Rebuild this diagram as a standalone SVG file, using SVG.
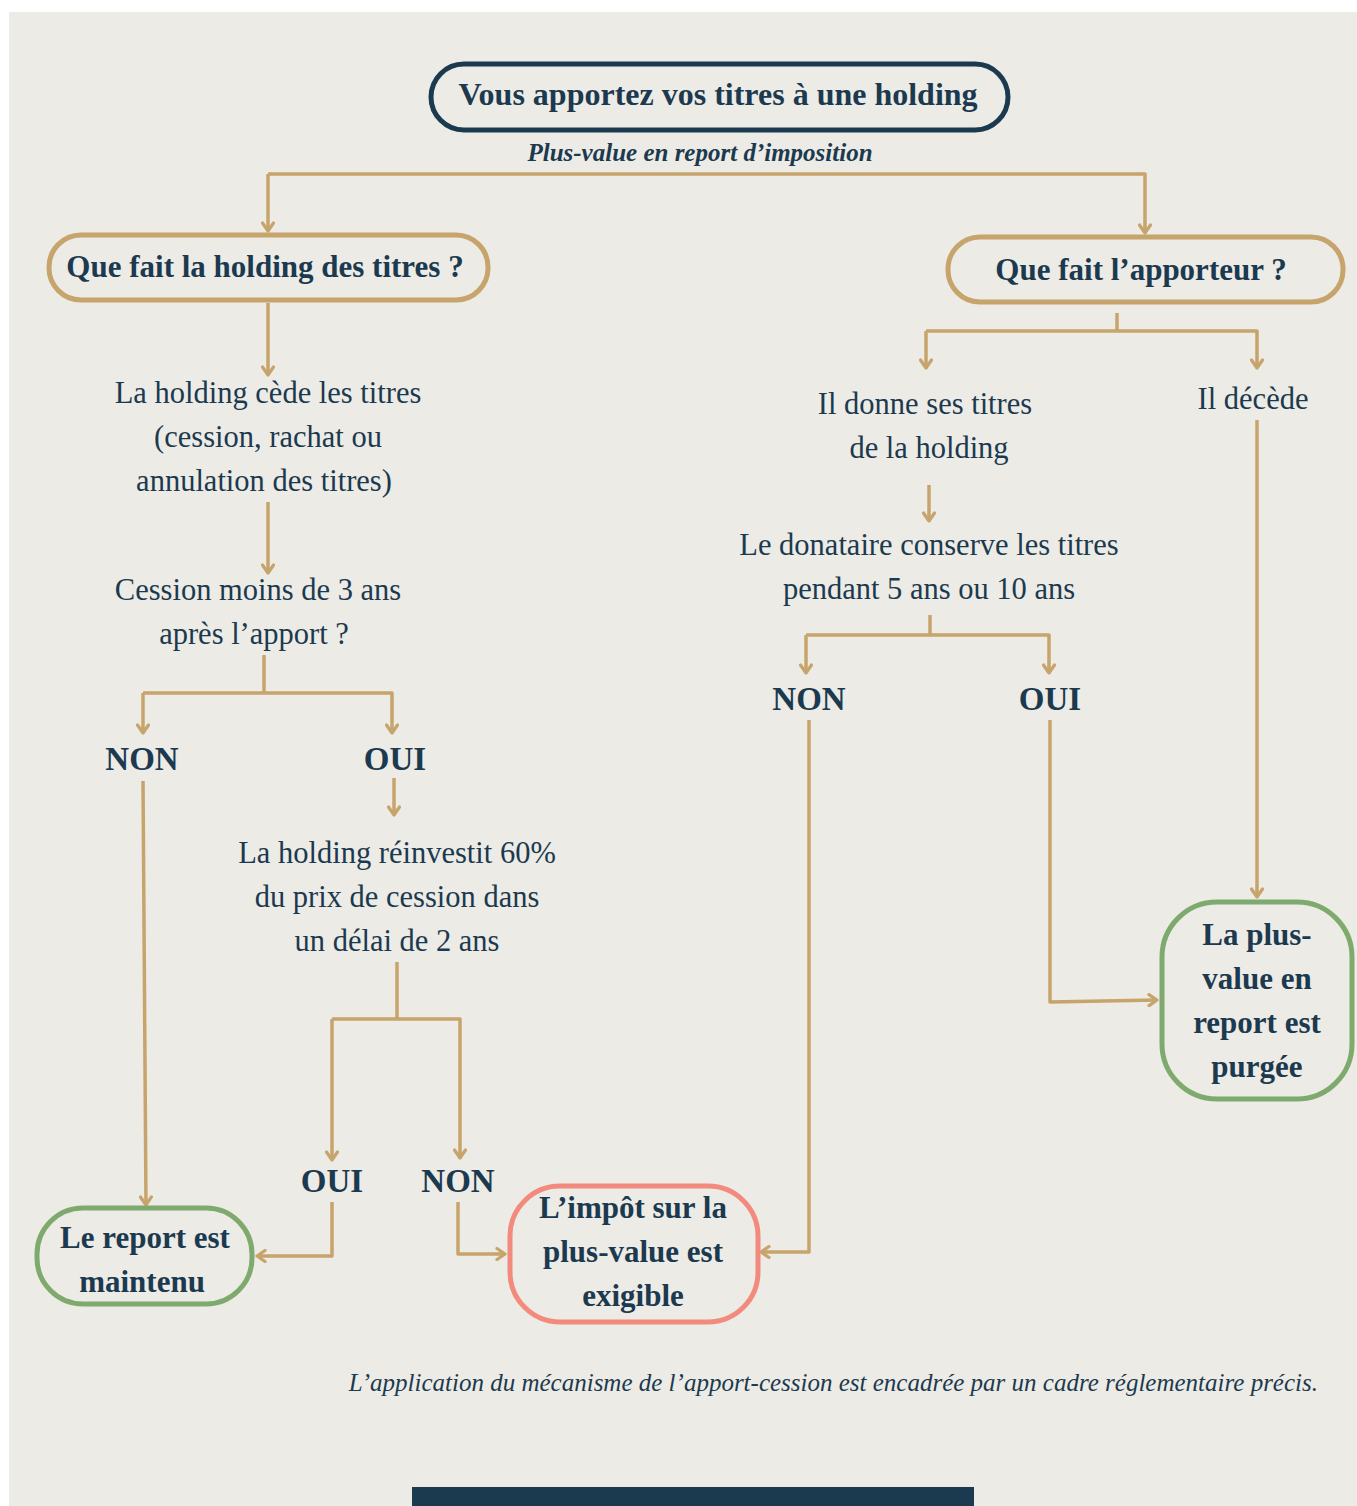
<svg xmlns="http://www.w3.org/2000/svg" width="1357" height="1506" viewBox="0 0 1357 1506">
<defs>
<style>
.t{font-family:"Liberation Serif","DejaVu Serif",serif;fill:#1C3A4F;text-anchor:middle}
.r{font-size:30.5px}
.b{font-size:31px;font-weight:bold}
.yn{font-size:33px;font-weight:bold}
.c{fill:none;stroke:#C6A46C;stroke-width:3.5;stroke-linejoin:round}
.pill{fill:none;stroke-width:5}
</style>
<marker id="ah" viewBox="0 0 14 14" refX="12" refY="7" markerWidth="14" markerHeight="14" markerUnits="userSpaceOnUse" orient="auto">
<path d="M4,1.5 L12,7 L4,12.5" fill="none" stroke="#C6A46C" stroke-width="3.2" stroke-linecap="round" stroke-linejoin="round"/>
</marker>
</defs>
<rect x="0" y="0" width="1357" height="1506" fill="#FFFFFF"/>
<rect x="9" y="12" width="1348" height="1494" fill="#EDEBE6"/>

<g id="connectors">
<path class="c" d="M268,174 H1145 V233" marker-end="url(#ah)"/>
<path class="c" d="M268,174 V231" marker-end="url(#ah)"/>
<path class="c" d="M268,303 V375" marker-end="url(#ah)"/>
<path class="c" d="M268,502 V573" marker-end="url(#ah)"/>
<path class="c" d="M264,655 V693"/>
<path class="c" d="M143,693 H392 V733" marker-end="url(#ah)"/>
<path class="c" d="M143,693 V733" marker-end="url(#ah)"/>
<path class="c" d="M143,781 L146,1205" marker-end="url(#ah)"/>
<path class="c" d="M394,778 V815" marker-end="url(#ah)"/>
<path class="c" d="M397,962 V1019"/>
<path class="c" d="M332,1019 H460 V1158" marker-end="url(#ah)"/>
<path class="c" d="M332,1019 V1160" marker-end="url(#ah)"/>
<path class="c" d="M332,1202 V1256 H257" marker-end="url(#ah)"/>
<path class="c" d="M458,1202 V1254 H505" marker-end="url(#ah)"/>
<path class="c" d="M1117,313 V331"/>
<path class="c" d="M926,331 H1257 V368" marker-end="url(#ah)"/>
<path class="c" d="M926,331 V368" marker-end="url(#ah)"/>
<path class="c" d="M929,485 V521" marker-end="url(#ah)"/>
<path class="c" d="M930,615 V635"/>
<path class="c" d="M806,635 H1049 V673" marker-end="url(#ah)"/>
<path class="c" d="M806,635 V673" marker-end="url(#ah)"/>
<path class="c" d="M809,720 V1252 H761" marker-end="url(#ah)"/>
<path class="c" d="M1050,720 V1002 L1157,1000" marker-end="url(#ah)"/>
<path class="c" d="M1257,420 V897" marker-end="url(#ah)"/>
</g>

<g id="n-top">
<rect class="pill" x="431" y="64" width="577" height="66" rx="33" stroke="#1C3A4F"/>
<text class="t" x="718" y="105" font-size="32" font-weight="bold">Vous apportez vos titres à une holding</text>
</g>
<g id="subtitle">
<text class="t" x="700" y="161" font-size="25" font-weight="bold" font-style="italic">Plus-value en report d’imposition</text>
</g>

<g id="n-holding">
<rect class="pill" x="49" y="235" width="439" height="65" rx="32" stroke="#C6A46C"/>
<text class="t b" x="265" y="277">Que fait la holding des titres ?</text>
</g>
<g id="n-apporteur">
<rect class="pill" x="948" y="237" width="395" height="65" rx="32" stroke="#C6A46C"/>
<text class="t b" x="1141" y="280">Que fait l’apporteur ?</text>
</g>

<g id="n-cede">
<text class="t r" x="268" y="403">La holding cède les titres</text>
<text class="t r" x="268" y="447">(cession, rachat ou</text>
<text class="t r" x="264" y="491">annulation des titres)</text>
</g>
<g id="n-cession3">
<text class="t r" x="258" y="600">Cession moins de 3 ans</text>
<text class="t r" x="254" y="644">après l’apport ?</text>
</g>
<g id="n-non1"><text class="t yn" x="142" y="770">NON</text></g>
<g id="n-oui1"><text class="t yn" x="395" y="770">OUI</text></g>
<g id="n-reinvest">
<text class="t r" x="397" y="863">La holding réinvestit 60%</text>
<text class="t r" x="397" y="907">du prix de cession dans</text>
<text class="t r" x="397" y="951">un délai de 2 ans</text>
</g>
<g id="n-oui2"><text class="t yn" x="332" y="1192">OUI</text></g>
<g id="n-non2"><text class="t yn" x="458" y="1192">NON</text></g>

<g id="n-maintenu">
<rect class="pill" x="37" y="1208" width="215" height="96" rx="46" stroke="#7FAA6E"/>
<text class="t b" x="145" y="1248">Le report est</text>
<text class="t b" x="142" y="1292">maintenu</text>
</g>
<g id="n-exigible">
<rect class="pill" x="510" y="1186" width="248" height="136" rx="50" stroke="#F28B7D"/>
<text class="t b" x="633" y="1218">L’impôt sur la</text>
<text class="t b" x="633" y="1262">plus-value est</text>
<text class="t b" x="633" y="1306">exigible</text>
</g>

<g id="n-donne">
<text class="t r" x="925" y="414">Il donne ses titres</text>
<text class="t r" x="929" y="458">de la holding</text>
</g>
<g id="n-decede"><text class="t r" x="1253" y="409">Il décède</text></g>
<g id="n-donataire">
<text class="t r" x="929" y="555">Le donataire conserve les titres</text>
<text class="t r" x="929" y="599">pendant 5 ans ou 10 ans</text>
</g>
<g id="n-non3"><text class="t yn" x="809" y="710">NON</text></g>
<g id="n-oui3"><text class="t yn" x="1050" y="710">OUI</text></g>

<g id="n-purgee">
<rect class="pill" x="1162" y="902" width="190" height="197" rx="55" stroke="#7FAA6E"/>
<text class="t b" x="1257" y="945">La plus-</text>
<text class="t b" x="1257" y="989">value en</text>
<text class="t b" x="1257" y="1033">report est</text>
<text class="t b" x="1257" y="1077">purgée</text>
</g>

<g id="footer">
<text x="1318" y="1391" font-family="Liberation Serif, serif" font-style="italic" font-size="25" fill="#1C3A4F" text-anchor="end">L’application du mécanisme de l’apport-cession est encadrée par un cadre réglementaire précis.</text>
<rect x="412" y="1487" width="562" height="19" fill="#1C3A4F"/>
</g>
</svg>
